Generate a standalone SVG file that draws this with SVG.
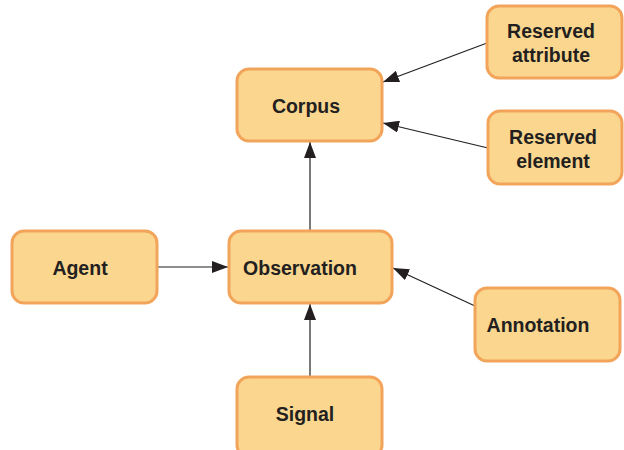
<svg xmlns="http://www.w3.org/2000/svg" width="624" height="450" viewBox="0 0 624 450">
<style>
.n rect{fill:#FAD68F;stroke:#F2A55A;stroke-width:3}
.n text{font-family:"Liberation Sans",Arial,sans-serif;font-weight:bold;font-size:19.5px;fill:#231F20;text-anchor:middle}
.c line{stroke:#231F20;stroke-width:1.2;marker-end:url(#ah)}
</style>
<defs>
<marker id="ah" viewBox="0 0 16 12" refX="16" refY="6" markerWidth="16" markerHeight="12" markerUnits="userSpaceOnUse" orient="auto">
<path d="M0,0 L16,6 L0,12 Z" fill="#231F20"/>
</marker>
</defs>
<rect width="624" height="450" fill="#fff"/>
<g class="c">
<line x1="157" y1="267" x2="228" y2="267"/>
<line x1="310" y1="231" x2="310" y2="142"/>
<line x1="310" y1="377" x2="310" y2="304"/>
<line x1="475" y1="306" x2="393" y2="268"/>
<line x1="487" y1="43" x2="383" y2="82"/>
<line x1="488" y1="148" x2="383" y2="123"/>
</g>
<g id="corpus" class="n"><rect x="237" y="69" width="145" height="72" rx="12"/><text x="306" y="113">Corpus</text></g>
<g id="reserved-attribute" class="n"><rect x="487" y="6" width="135" height="72" rx="12"/><text x="551" y="38">Reserved</text><text x="551" y="62">attribute</text></g>
<g id="reserved-element" class="n"><rect x="488" y="111" width="134" height="73" rx="12"/><text x="553" y="144">Reserved</text><text x="553" y="168">element</text></g>
<g id="agent" class="n"><rect x="12" y="231" width="145" height="72" rx="12"/><text x="80" y="275">Agent</text></g>
<g id="observation" class="n"><rect x="229" y="231" width="163" height="72" rx="12"/><text x="300" y="275">Observation</text></g>
<g id="annotation" class="n"><rect x="475" y="288" width="145" height="73" rx="12"/><text x="538" y="332">Annotation</text></g>
<g id="signal" class="n"><rect x="237" y="377" width="145" height="80" rx="12"/><text x="305" y="421">Signal</text></g>
</svg>
